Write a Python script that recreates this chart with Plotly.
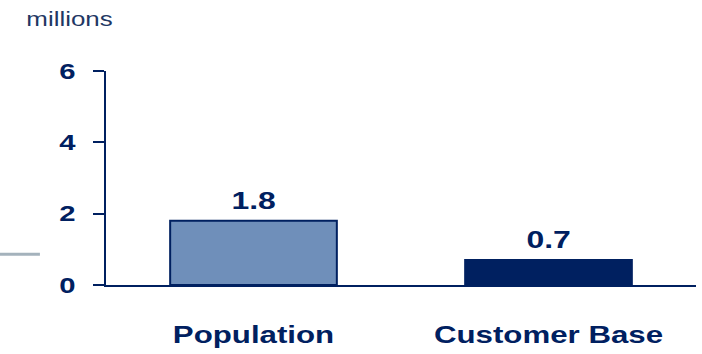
import plotly.graph_objects as go

# Chart data
categories = ["Population", "Customer Base"]
values = [1.8, 0.7]
value_labels = ["1.8", "0.7"]
y_ticks = [0, 2, 4, 6]

NAVY = "#002060"
bar_fill = ["#6F8FBA", NAVY]
FONT = "Liberation Sans, Arial, sans-serif"
TEXT_STRETCH = 1.33  # horizontal widening applied to every label

fig = go.Figure()
fig.add_trace(go.Bar(
    x=categories,
    y=values,
    width=0.565,
    marker=dict(color=bar_fill, line=dict(color=NAVY, width=2)),
    hoverinfo="skip",
))

# value labels above each bar
for cat, val, lab in zip(categories, values, value_labels):
    fig.add_annotation(
        x=cat, y=val, text=f"<b>{lab}</b>", showarrow=False,
        yanchor="bottom", yshift=5,
        font=dict(family=FONT, size=24, color=NAVY),
    )

# unit caption
fig.add_annotation(
    xref="paper", yref="paper", x=-0.12, y=1.245,
    xanchor="left", yanchor="middle",
    text="millions", showarrow=False,
    font=dict(family=FONT, size=19.5, color="#1F3864"),
)

# short grey rule at the left edge
fig.add_shape(
    type="line", xref="paper", yref="paper",
    x0=-0.18, x1=-0.112, y0=0.1435, y1=0.1435,
    line=dict(color="#A4B2BC", width=3),
)

fig.update_layout(
    width=702, height=354,
    margin=dict(l=106, r=6, t=71, b=67),
    plot_bgcolor="white", paper_bgcolor="white",
    showlegend=False,
)
fig.update_xaxes(
    showline=True, linecolor=NAVY, linewidth=2,
    ticks="", showgrid=False, zeroline=False,
    range=[-0.5, 1.5],
    tickfont=dict(family=FONT, size=23.5, color=NAVY),
    tickprefix="<b>", ticksuffix="</b>",
    ticklabelstandoff=28,
)
fig.update_yaxes(
    range=[0, 6], tickvals=y_ticks, ticktext=[f"<b>{t}</b>" for t in y_ticks],
    showline=True, linecolor=NAVY, linewidth=2,
    ticks="outside", ticklen=11, tickwidth=2, tickcolor=NAVY,
    showgrid=False, zeroline=False,
    tickfont=dict(family=FONT, size=22, color=NAVY),
    ticklabelstandoff=13,
)

# widen each text element about its own anchor point
stretch_js = """
var gd = document.getElementById('{plot_id}');
gd.querySelectorAll('svg text').forEach(function (t) {
    var x = parseFloat(t.getAttribute('x')) || 0;
    var y = parseFloat(t.getAttribute('y')) || 0;
    var tr = t.getAttribute('transform') || '';
    t.setAttribute('transform', tr + ' translate(' + x + ',' + y + ') scale(%s,1) translate(' + (-x) + ',' + (-y) + ')');
});
""" % TEXT_STRETCH

fig.write_html("out.html", post_script=stretch_js)
